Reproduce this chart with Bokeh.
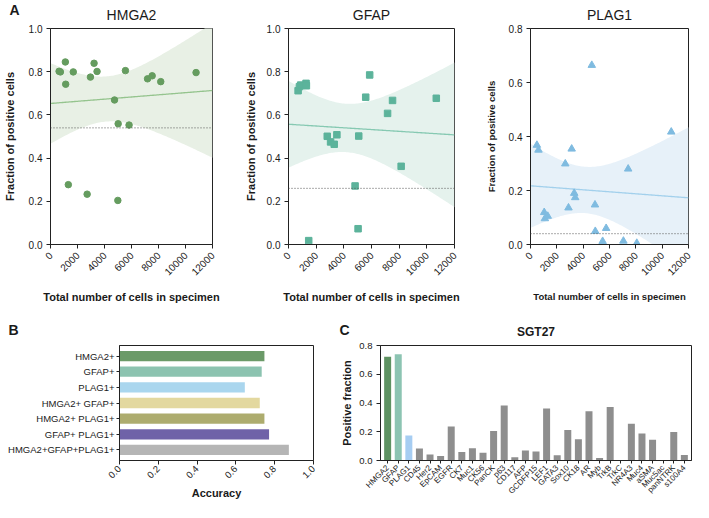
import math
import numpy as np
from bokeh.plotting import figure
from bokeh.layouts import column, row
from bokeh.models import Range1d, FactorRange, Span, FixedTicker, NumeralTickFormatter
from bokeh.core.properties import value
from bokeh.embed import file_html
from bokeh.resources import INLINE

FONT = "Liberation Sans"

# ---------------- Panel A data ----------------
x_ticks = [0, 2000, 4000, 6000, 8000, 10000, 12000]

hmga2_cells = [636, 733, 1100, 1125, 1320, 1687, 2714, 2958, 3227, 3447, 4743, 4988, 5012, 5550, 5819, 7188, 7531, 8166, 10782]
hmga2_frac = [0.802, 0.799, 0.845, 0.742, 0.277, 0.799, 0.233, 0.775, 0.839, 0.801, 0.669, 0.204, 0.559, 0.805, 0.553, 0.767, 0.781, 0.754, 0.796]

gfap_cells = [695, 790, 886, 1269, 1293, 1461, 2802, 3042, 3305, 3497, 4814, 5030, 5078, 5581, 5868, 7162, 7521, 8144, 10683]
gfap_frac = [0.712, 0.731, 0.738, 0.746, 0.735, 0.018, 0.501, 0.475, 0.464, 0.508, 0.271, 0.073, 0.502, 0.682, 0.785, 0.607, 0.667, 0.362, 0.677]

plag1_cells = [485, 606, 1042, 1091, 1309, 2642, 2885, 3127, 3321, 3394, 4655, 4897, 4921, 5479, 5745, 7055, 7418, 8073, 10691]
plag1_frac = [0.368, 0.350, 0.119, 0.096, 0.105, 0.299, 0.136, 0.354, 0.190, 0.174, 0.664, 0.147, 0.049, 0.012, 0.060, 0.013, 0.280, 0.005, 0.417]

thresholds = {"HMGA2": 0.54, "GFAP": 0.26, "PLAG1": 0.04}

# ---------------- Panel B data ----------------
combos = ["HMGA2+", "GFAP+", "PLAG1+", "HMGA2+ GFAP+", "HMGA2+ PLAG1+", "GFAP+ PLAG1+", "HMGA2+GFAP+PLAG1+"]
accuracy = [0.747, 0.733, 0.646, 0.723, 0.747, 0.771, 0.873]
acc_ticks = [0.0, 0.2, 0.4, 0.6, 0.8, 1.0]

# ---------------- Panel C data ----------------
markers = ["HMGA2", "GFAP", "PLAG1", "CD45", "Her2", "EpCAM", "EGFR", "CK7", "Muc1", "CK56",
           "PanCK", "p63", "CD117", "AFP", "GCDFP15", "LEF1", "GATA3", "Sox10", "CK18", "AR",
           "Myb", "TrkB", "TrkC", "NR4A3", "Muc4", "aSMA", "Muc5ac", "panNTRK", "s100A4"]
positive = [0.721, 0.739, 0.174, 0.084, 0.041, 0.032, 0.237, 0.059, 0.086, 0.054,
            0.206, 0.382, 0.023, 0.070, 0.063, 0.362, 0.036, 0.213, 0.147, 0.342,
            0.018, 0.373, 0.0, 0.256, 0.188, 0.145, 0.0, 0.199, 0.038]
frac_ticks = [0.0, 0.2, 0.4, 0.6, 0.8]

TXT = "#1a1a1a"
TOTAL_W = 693

# layout geometry (canvas pixels)
A_W = [236, 232, 225]          # figure widths, row A
A_LB = [50, 52, 62]            # left borders
A_RB = [24, 14, 5]             # right borders
A_STRIP_H = 21
A_TOP, A_FRAME, A_BOTTOM = 7, 216, 62
B_W, C_W = 335, 358
B_LB, B_RB, C_LB, C_RB = 119, 22, 45, 2
BC_STRIP_H = 33
BC_TOP, BC_FRAME, BC_BOTTOM = 6, 116, 41


def t975(df):
    z = 1.959964
    g1 = (z**3 + z) / 4
    g2 = (5 * z**5 + 16 * z**3 + 3 * z) / 96
    g3 = (3 * z**7 + 19 * z**5 + 17 * z**3 - 15 * z) / 384
    return z + g1 / df + g2 / df**2 + g3 / df**3


def style_axes(p, tick_size="10px"):
    p.grid.visible = False
    p.outline_line_color = "#222222"
    p.outline_line_width = 1
    for ax in (p.xaxis[0], p.yaxis[0]):
        ax.axis_line_color = "#222222"
        ax.major_tick_line_color = "#222222"
        ax.major_tick_out = 4
        ax.major_tick_in = 0
        ax.minor_tick_line_color = None
        ax.major_label_text_font = FONT
        ax.major_label_text_font_size = tick_size
        ax.major_label_text_color = TXT
        ax.axis_label_text_font = FONT
        ax.axis_label_text_font_style = "bold"
        ax.axis_label_text_color = TXT
        ax.major_label_standoff = 4


def strip(height):
    s = figure(width=TOTAL_W, height=height, x_range=Range1d(0, TOTAL_W), y_range=Range1d(0, height),
               x_axis_location=None, y_axis_location=None, output_backend="svg",
               toolbar_location=None, min_border=0)
    s.grid.visible = False
    s.outline_line_color = None
    s.background_fill_color = None
    s.border_fill_color = None
    return s


def strip_text(s, x, y, text, size, style, align, baseline):
    s.text(x=[x], y=[y], text=[text], text_font=value(FONT), text_font_size=value(size),
           text_font_style=style, text_align=align, text_baseline=baseline, text_color=TXT)


def scatter_panel(cells, frac, thr, ymax, y_ticks, marker, size, pt_color,
                  fit_color, band_color, width, lb, rb, ylab_standoff, title_size="11px"):
    p = figure(width=width, height=A_TOP + A_FRAME + A_BOTTOM,
               x_range=Range1d(0, 12000), y_range=Range1d(0, ymax),
               output_backend="svg", toolbar_location=None,
               min_border_left=lb, min_border_right=rb, min_border_top=A_TOP,
               min_border_bottom=A_BOTTOM)

    x = np.array(cells, dtype=float)
    y = np.array(frac, dtype=float)
    n = len(x)
    slope, intercept = np.polyfit(x, y, 1)
    resid = y - (slope * x + intercept)
    s = math.sqrt(np.sum(resid**2) / (n - 2))
    xm = x.mean()
    sxx = np.sum((x - xm) ** 2)
    grid = np.linspace(0, 12000, 121)
    fit = slope * grid + intercept
    half = t975(n - 2) * s * np.sqrt(1.0 / n + (grid - xm) ** 2 / sxx)

    p.varea(x=grid, y1=fit - half, y2=fit + half, fill_color=band_color, fill_alpha=1.0)
    p.line(grid, fit, line_color=fit_color, line_width=1.3)
    p.add_layout(Span(location=thr, dimension="width", line_color="#555555",
                      line_dash="1 2", line_width=1))
    p.scatter(cells, frac, marker=marker, size=size, fill_color=pt_color, line_color=pt_color)

    style_axes(p, "10px")
    p.xaxis.ticker = FixedTicker(ticks=x_ticks)
    p.yaxis.ticker = FixedTicker(ticks=y_ticks)
    p.yaxis.formatter = NumeralTickFormatter(format="0.0")
    p.xaxis.major_label_orientation = math.pi / 4
    p.xaxis.major_label_standoff = 5
    p.xaxis.axis_label = "Total number of cells in specimen"
    p.yaxis.axis_label = "Fraction of positive cells"
    p.xaxis.axis_label_text_font_size = title_size
    p.yaxis.axis_label_text_font_size = title_size
    p.xaxis.axis_label_standoff = 9
    p.yaxis.axis_label_standoff = ylab_standoff
    return p


pA1 = scatter_panel(hmga2_cells, hmga2_frac, thresholds["HMGA2"], 1.0,
                    [0, 0.2, 0.4, 0.6, 0.8, 1.0], "circle", 6.5, "#659c5f", "#95c48e", "#e8f0e5",
                    A_W[0], A_LB[0], A_RB[0], 10)
pA2 = scatter_panel(gfap_cells, gfap_frac, thresholds["GFAP"], 1.0,
                    [0, 0.2, 0.4, 0.6, 0.8, 1.0], "square", 6.5, "#5cb39b", "#86c9b2", "#e5f2ed",
                    A_W[1], A_LB[1], A_RB[1], 7)
pA3 = scatter_panel(plag1_cells, plag1_frac, thresholds["PLAG1"], 0.8,
                    [0, 0.2, 0.4, 0.6, 0.8], "triangle", 7.5, "#7fbbe0", "#a2d0ec", "#e7f1f9",
                    A_W[2], A_LB[2], A_RB[2], 9, title_size="9.5px")

# strip above row A: panel letter and titles
stripA = strip(A_STRIP_H)
strip_text(stripA, 9, A_STRIP_H - 1.5, "A", "14px", "bold", "left", "top")
x0 = 0
for w, lb, rb, name in zip(A_W, A_LB, A_RB, ["HMGA2", "GFAP", "PLAG1"]):
    cx = x0 + lb + (w - lb - rb) / 2
    strip_text(stripA, cx, A_STRIP_H - 14, name, "14px", "normal", "center", "middle")
    x0 += w

# ---------------- Panel B ----------------
b_colors = ["#6b9a68", "#8cc3b0", "#aad6ee", "#e3d89f", "#adac6e", "#6f62a8", "#b5b5b5"]
pB = figure(width=B_W, height=BC_TOP + BC_FRAME + BC_BOTTOM,
            y_range=FactorRange(*reversed(combos), range_padding=0.05),
            x_range=Range1d(0, 1.0), output_backend="svg", toolbar_location=None,
            min_border_left=B_LB, min_border_right=B_RB, min_border_top=BC_TOP,
            min_border_bottom=BC_BOTTOM)
pB.hbar(y=combos, right=accuracy, height=0.66, fill_color=b_colors, line_color=None)
style_axes(pB, "9.5px")
pB.xaxis.ticker = FixedTicker(ticks=acc_ticks)
pB.xaxis.formatter = NumeralTickFormatter(format="0.0")
pB.xaxis.major_label_orientation = math.pi / 4
pB.xaxis.major_label_standoff = 3
pB.xaxis.axis_label = "Accuracy"
pB.xaxis.axis_label_text_font_size = "11px"
pB.xaxis.axis_label_standoff = 3
pB.yaxis.major_label_text_font_size = "9.5px"
pB.yaxis.major_label_standoff = 2
pB.yaxis.major_tick_out = 3

# ---------------- Panel C ----------------
c_colors = ["#5e9262", "#8cc4b2", "#a6cdf2"] + ["#8e8e8e"] * (len(markers) - 3)
pC = figure(width=C_W, height=BC_TOP + BC_FRAME + BC_BOTTOM,
            x_range=FactorRange(*markers, range_padding=0.012),
            y_range=Range1d(0, 0.8), output_backend="svg", toolbar_location=None,
            min_border_left=C_LB, min_border_right=C_RB, min_border_top=BC_TOP,
            min_border_bottom=BC_BOTTOM)
pC.vbar(x=markers, top=positive, width=0.66, fill_color=c_colors, line_color=None)
style_axes(pC, "9.5px")
pC.xaxis.major_label_text_font_size = "8px"
pC.xaxis.major_label_orientation = math.pi / 4
pC.xaxis.major_label_standoff = 3
pC.xaxis.major_tick_out = 3
pC.yaxis.ticker = FixedTicker(ticks=frac_ticks)
pC.yaxis.formatter = NumeralTickFormatter(format="0.0")
pC.yaxis.axis_label = "Positive fraction"
pC.yaxis.axis_label_text_font_size = "11px"
pC.yaxis.axis_label_standoff = 3

# strip above row B/C: letters and the SGT27 title
stripBC = strip(BC_STRIP_H)
strip_text(stripBC, 8, 17.5, "B", "14px", "bold", "left", "top")
strip_text(stripBC, B_W + 4, 17.5, "C", "14px", "bold", "left", "top")
strip_text(stripBC, B_W + C_LB + (C_W - C_LB - C_RB) / 2, 7.5, "SGT27",
           "12px", "bold", "center", "middle")

layout = column(stripA, row(pA1, pA2, pA3), stripBC, row(pB, pC))

open("out.html", "w").write(file_html(layout, INLINE))
